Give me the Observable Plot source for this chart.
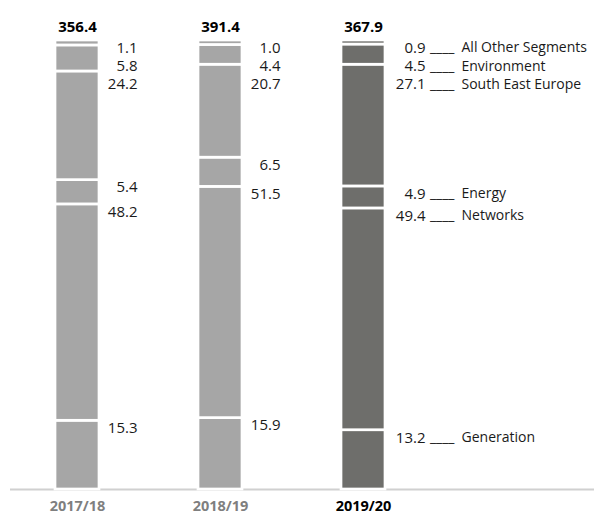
<!DOCTYPE html>
<html>
<head>
<meta charset="utf-8">
<script src="https://cdn.jsdelivr.net/npm/d3@7"></script>
<script src="https://cdn.jsdelivr.net/npm/@observablehq/plot@0.6"></script>
<style>
  html, body { margin: 0; padding: 0; background: #fff; }
  #chart { width: 594px; height: 518px; }
</style>
</head>
<body>
<div id="chart"></div>
<script>
// ---- data ----
const years = ["2017/18", "2018/19", "2019/20"];
const totals = [356.4, 391.4, 367.9];
const segments = ["Generation", "Networks", "Energy", "South East Europe", "Environment", "All Other Segments"];
const share2017 = [15.3, 48.2, 5.4, 24.2, 5.8, 1.1];
const share2018 = [15.9, 51.5, 6.5, 20.7, 4.4, 1.0];
const share2019 = [13.2, 49.4, 4.9, 27.1, 4.5, 0.9];
const shares = [share2017, share2018, share2019];
const highlightYear = "2019/20";

// ---- layout ----
const W = 594, H = 518;
const mTop = 40, mBottom = 29;
const plotBottom = H - mBottom;
const pxPerUnit = (H - mTop - mBottom) / 100;
const labelOffset = 7.5;   // px below segment top
const labelGap = 18.3;     // min px between labels

const light = "#a6a6a6", dark = "#6e6e6b";

const barData = [];
years.forEach((y, yi) => {
  segments.forEach((s, si) => barData.push({year: y, segment: s, value: shares[yi][si]}));
});

// label positions: near top of each segment, pushed down to avoid overlap
const labelData = [];
years.forEach((y, yi) => {
  const vals = shares[yi];
  const tops = [];
  let c = 0;
  vals.forEach(v => { c += v; tops.push(c); });
  let prev = -Infinity;
  for (let si = vals.length - 1; si >= 0; si--) {
    let px = plotBottom - tops[si] * pxPerUnit + labelOffset;
    if (px < prev + labelGap) px = prev + labelGap;
    prev = px;
    labelData.push({year: y, segment: segments[si], value: vals[si], ly: (plotBottom - px) / pxPerUnit});
  }
});

const chart = Plot.plot({
  width: W,
  height: H,
  marginTop: mTop,
  marginBottom: mBottom,
  marginLeft: 10,
  marginRight: 0,
  style: {fontFamily: "'Open Sans', sans-serif", fontSize: "14px", background: "white", color: "#1a1a1a"},
  x: {type: "band", domain: years, range: [54.85, 386.2], paddingInner: 0.691, paddingOuter: 0, axis: null},
  y: {domain: [0, 100], axis: null},
  color: {type: "identity"},
  marks: [
    Plot.ruleY([0], {stroke: "#d0d0d0", strokeWidth: 2}),
    Plot.barY(barData, {
      x: "year", y: "value",
      fill: d => d.year === highlightYear ? dark : light,
      stroke: "white", strokeWidth: 2.7
    }),
    Plot.text(years, {
      x: d => d, y: 100, text: (d, i) => totals[i].toFixed(1),
      dy: -13, fontWeight: "bold", fill: "#000", lineAnchor: "middle", fontSize: 15
    }),
    Plot.text(labelData.filter(d => d.year !== highlightYear), {
      x: "year", y: "ly", text: d => d.value.toFixed(1),
      textAnchor: "end", dx: 60, lineAnchor: "middle", fill: "#1a1a1a", fontSize: 15
    }),
    Plot.text(labelData.filter(d => d.year === highlightYear), {
      x: "year", y: "ly", text: d => d.value.toFixed(1),
      textAnchor: "end", dx: 62, lineAnchor: "middle", fill: "#1a1a1a", fontSize: 15
    }),
    Plot.text(labelData.filter(d => d.year === highlightYear), {
      x: "year", y: "ly", text: () => "____",
      textAnchor: "end", dx: 91, lineAnchor: "middle", fill: "#1a1a1a", fontSize: 14
    }),
    Plot.text(labelData.filter(d => d.year === highlightYear), {
      x: "year", y: "ly", text: "segment",
      textAnchor: "start", dx: 98, lineAnchor: "middle", fill: "#1a1a1a", fontSize: 14
    }),
    Plot.text(years, {
      x: d => d, frameAnchor: "bottom", dy: 17, text: d => d,
      fontWeight: "bold", lineAnchor: "middle", fontSize: 14.5,
      fill: d => d === highlightYear ? "#000" : "#7f7f7f"
    })
  ]
});
document.getElementById("chart").appendChild(chart);
</script>
</body>
</html>
